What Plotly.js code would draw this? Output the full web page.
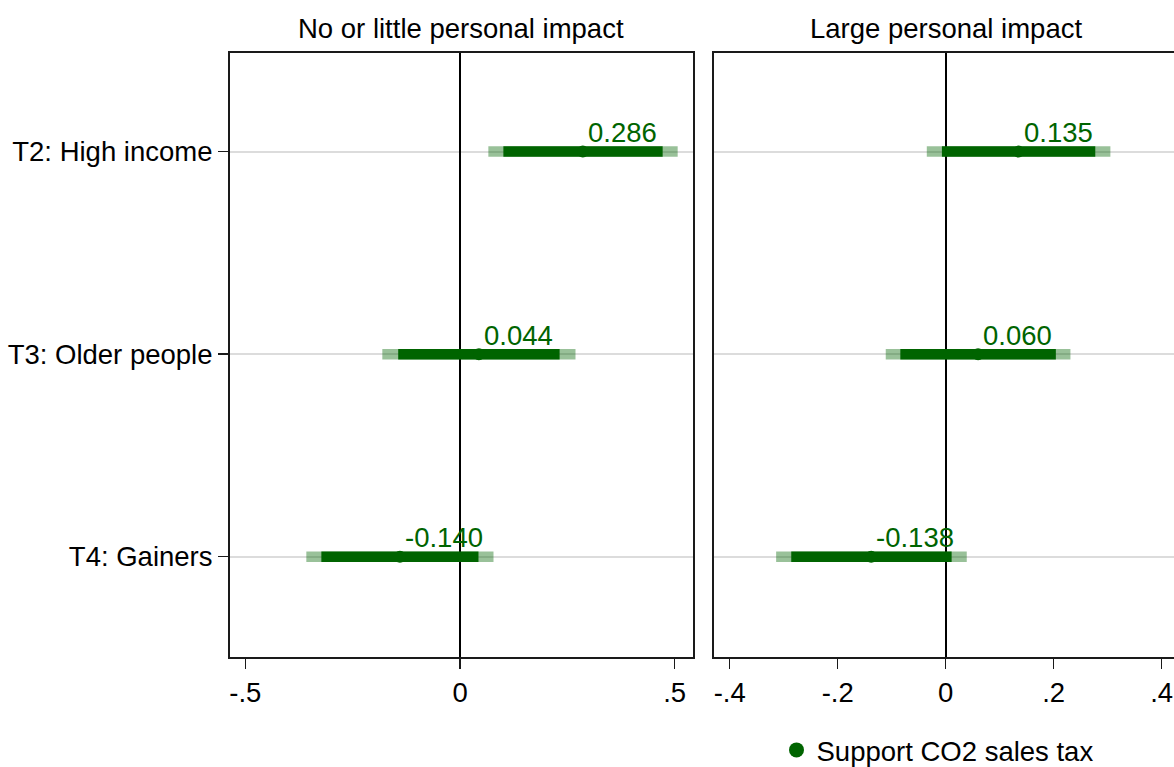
<!DOCTYPE html>
<html>
<head>
<meta charset="utf-8">
<script src="https://cdn.plot.ly/plotly-3.0.1.min.js"></script>
<style>html,body{margin:0;padding:0;background:#fff;}#chart{width:1174px;height:767px;}</style>
</head>
<body>
<div id="chart"></div>
<script>
const categories = ["T2: High income", "T3: Older people", "T4: Gainers"];
const panelTitles = ["No or little personal impact", "Large personal impact"];
const seriesName = "Support CO2 sales tax";

// Panel 1: No or little personal impact
const coefLow   = [0.286, 0.044, -0.140];
const ci90LowLo = [0.101, -0.144, -0.323];
const ci90LowHi = [0.472, 0.232, 0.043];
const ci95LowLo = [0.066, -0.181, -0.358];
const ci95LowHi = [0.507, 0.269, 0.078];

// Panel 2: Large personal impact
const coefHigh   = [0.135, 0.060, -0.138];
const ci90HighLo = [-0.007, -0.084, -0.286];
const ci90HighHi = [0.277, 0.204, 0.011];
const ci95HighLo = [-0.035, -0.111, -0.314];
const ci95HighHi = [0.305, 0.231, 0.039];

const tickValsLow = [-0.5, 0, 0.5];
const tickTextLow = ["-.5", "0", ".5"];
const tickValsHigh = [-0.4, -0.2, 0, 0.2, 0.4];
const tickTextHigh = ["-.4", "-.2", "0", ".2", ".4"];

const FONT = "Liberation Sans, Arial, sans-serif";
const FS = 27.5;
const DK = "rgb(0,100,0)";
const LT = "rgba(0,100,0,0.4)";
const W = 1174, H = 767;

function segs(lo, hi) {
  const x = [], y = [];
  for (let i = 0; i < categories.length; i++) {
    x.push(lo[i], hi[i], null);
    y.push(categories[i], categories[i], null);
  }
  return {x, y};
}

function panelTraces(coef, lo95, hi95, lo90, hi90, xa, ya) {
  const s95 = segs(lo95, hi95), s90 = segs(lo90, hi90);
  return [
    {type: "scatter", mode: "lines", x: s95.x, y: s95.y, xaxis: xa, yaxis: ya,
     line: {color: LT, width: 10.5}, showlegend: false, hoverinfo: "skip"},
    {type: "scatter", mode: "lines", x: s90.x, y: s90.y, xaxis: xa, yaxis: ya,
     line: {color: DK, width: 10.5}, showlegend: false, hoverinfo: "skip"},
    {type: "scatter", mode: "markers", x: coef, y: categories, xaxis: xa, yaxis: ya,
     marker: {color: DK, size: 12}, name: seriesName, showlegend: false}
  ];
}

function labelAnns(coef, xa, ya) {
  return coef.map((v, i) => ({
    text: v.toFixed(3), x: v, y: categories[i], xref: xa, yref: ya,
    xanchor: "left", yanchor: "middle", xshift: 3, yshift: 19, showarrow: false,
    font: {family: FONT, size: FS, color: DK}
  }));
}

const data = [].concat(
  panelTraces(coefLow, ci95LowLo, ci95LowHi, ci90LowLo, ci90LowHi, "x", "y"),
  panelTraces(coefHigh, ci95HighLo, ci95HighHi, ci90HighLo, ci90HighHi, "x2", "y2"),
  [{type: "scatter", mode: "markers", x: [null], y: [null], xaxis: "x", yaxis: "y",
    marker: {color: DK, size: 15}, name: seriesName, showlegend: true}]
);

const yDom = [1 - 657.3 / H, 1 - 53 / H];
const yRange = [2.497, -0.487];

const xCommon = {
  showline: true, linecolor: "#1a1a1a", linewidth: 2, mirror: true,
  ticks: "outside", ticklen: 10, tickwidth: 1.5, tickcolor: "#1a1a1a",
  showgrid: false, zeroline: true, zerolinecolor: "#000", zerolinewidth: 2,
  tickfont: {family: FONT, size: FS, color: "#000"}, fixedrange: true
};

const layout = {
  width: W, height: H,
  margin: {l: 0, r: 0, t: 0, b: 0, autoexpand: false},
  paper_bgcolor: "#fff", plot_bgcolor: "#fff",
  font: {family: FONT, color: "#000"},
  xaxis: Object.assign({}, xCommon, {
    domain: [230 / W, 692.7 / W], range: [-0.5358, 0.5420],
    tickvals: tickValsLow, ticktext: tickTextLow, anchor: "y"
  }),
  xaxis2: Object.assign({}, xCommon, {
    domain: [714.3 / W, 1], range: [-0.4285, 0.4228],
    tickvals: tickValsHigh, ticktext: tickTextHigh, anchor: "y2"
  }),
  yaxis: {
    domain: yDom, type: "category", categoryorder: "array", categoryarray: categories,
    range: yRange, showline: true, linecolor: "#1a1a1a", linewidth: 2, mirror: true,
    ticks: "outside", ticklen: 10, tickwidth: 1.5, tickcolor: "#1a1a1a",
    showgrid: true, gridcolor: "#dcdcdc", gridwidth: 2, zeroline: false,
    tickfont: {family: FONT, size: FS, color: "#000"}, anchor: "x", fixedrange: true
  },
  yaxis2: {
    domain: yDom, type: "category", categoryorder: "array", categoryarray: categories,
    range: yRange, showline: true, linecolor: "#1a1a1a", linewidth: 2, mirror: false,
    ticks: "", showticklabels: false,
    showgrid: true, gridcolor: "#dcdcdc", gridwidth: 2, zeroline: false,
    anchor: "x2", fixedrange: true
  },
  showlegend: true,
  legend: {
    x: (816.5 - 40) / W, xanchor: "left", y: 1 - 750 / H, yanchor: "middle",
    orientation: "h", bgcolor: "rgba(0,0,0,0)", borderwidth: 0,
    font: {family: FONT, size: FS, color: "#000"}
  },
  annotations: [
    {text: panelTitles[0], xref: "paper", yref: "paper", x: 461 / W, y: 1 - 28.5 / H,
     xanchor: "center", yanchor: "middle", showarrow: false,
     font: {family: FONT, size: FS, color: "#000"}},
    {text: panelTitles[1], xref: "paper", yref: "paper", x: 945.7 / W, y: 1 - 28.5 / H,
     xanchor: "center", yanchor: "middle", showarrow: false,
     font: {family: FONT, size: FS, color: "#000"}}
  ].concat(labelAnns(coefLow, "x", "y"), labelAnns(coefHigh, "x2", "y2"))
};

Plotly.newPlot("chart", data, layout, {displayModeBar: false, staticPlot: true});
</script>
</body>
</html>
